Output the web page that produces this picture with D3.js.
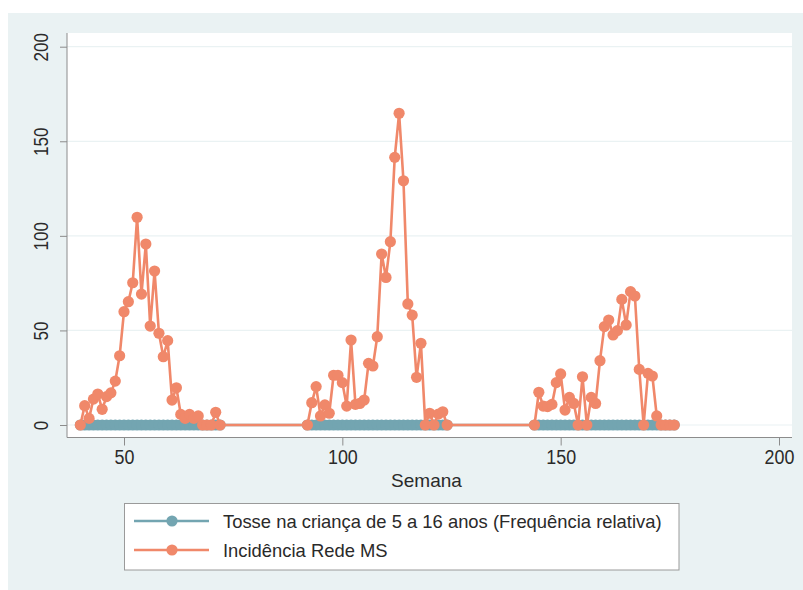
<!DOCTYPE html>
<html>
<head>
<meta charset="utf-8">
<script src="https://cdn.jsdelivr.net/npm/d3@7/dist/d3.min.js"></script>
<style>
  html, body { margin: 0; padding: 0; background: #ffffff; }
  svg { display: block; }
  text { font-family: "Liberation Sans", Arial, sans-serif; fill: #2a2a2a; }
</style>
</head>
<body>
<svg id="chart" width="803" height="590"></svg>
<script>
// Weekly series, three seasons of observation
const weeksA = d3.range(40, 73);
const weeksB = d3.range(92, 125);
const weeksC = d3.range(144, 177);
const weeks = [...weeksA, ...weeksB, ...weeksC];

// Incidência Rede MS
const incidencia = [
  0, 10.2, 3.5, 13.7, 16.4, 8.3, 15, 17, 23.2, 36.6, 59.9, 65.2, 75.2, 109.8, 69.2, 95.7, 52.3,
  81.4, 48.5, 36.1, 44.6, 13.2, 19.7, 5.6, 3.5, 5.6, 3.5, 4.8, 0, 0, 0, 6.7, 0,
  0, 11.8, 20.3, 4.8, 10.6, 6.2, 26.3, 26.3, 22.4, 10.0, 44.9, 10.9, 11.4, 13.2, 32.6, 31.2, 46.7,
  90.4, 78.0, 96.9, 141.5, 164.8, 129.1, 64.0, 58.1, 25.2, 43.2, 0, 6.2, 0, 5.8, 7.0, 0,
  0, 17.3, 10.0, 9.7, 10.9, 22.4, 27.0, 7.9, 14.6, 11.4, 0, 25.5, 0, 14.6, 11.4, 34.0, 52.0,
  55.5, 47.6, 49.9, 66.4, 52.9, 70.5, 68.2, 29.4, 0, 27.3, 25.9, 4.8, 0, 0, 0, 0
];

// Tosse na criança de 5 a 16 anos (relative frequency, stays near zero)
const tosse = [
  0, 0, 0, 0, 0, 0, 0, 0, 0, 0, 0, 0, 0, 0, 0, 0, 0, 0, 0, 0, 0, 0, 0, 0, 0, 0, 0, 0, 0, 0, 0, 0, 0,
  0, 0, 0, 0, 0, 0, 0, 0, 0, 0, 0, 0, 0, 0, 0, 0, 0, 0, 0, 0, 0, 0, 0, 0, 0, 0, 0, 0, 0, 0, 0, 0, 0,
  0, 0, 0, 0, 0, 0, 0, 0, 0, 0, 0, 0, 0, 0, 0, 0, 0, 0, 0, 0, 0, 0, 0, 0, 0, 0, 0, 0, 0, 0, 0, 0, 0
];

const xTicks = [50, 100, 150, 200];
const yTicks = [0, 50, 100, 150, 200];
const seriesNames = ["Tosse na criança de 5 a 16 anos (Frequência relativa)", "Incidência Rede MS"];
const seriesColors = ["#73a5b1", "#f0886a"];
const xTitle = "Semana";

const svg = d3.select("#chart");

// graph region background
svg.append("rect").attr("x", 8).attr("y", 13).attr("width", 795).attr("height", 577).attr("fill", "#eaf2f3");

// plot region
const plot = { left: 67, right: 792, top: 33, bottom: 437.5 };
svg.append("rect")
  .attr("x", plot.left).attr("y", plot.top)
  .attr("width", plot.right - plot.left).attr("height", plot.bottom - plot.top)
  .attr("fill", "#ffffff");

const x = d3.scaleLinear().domain([50, 200]).range([124, 779]);
const y = d3.scaleLinear().domain([0, 200]).range([425, 46.7]);

// horizontal grid
svg.append("g").selectAll("line").data(yTicks).join("line")
  .attr("x1", plot.left).attr("x2", plot.right)
  .attr("y1", d => y(d)).attr("y2", d => y(d))
  .attr("stroke", "#eaf2f3").attr("stroke-width", 1.2);

// y axis
const yAxis = svg.append("g")
  .attr("transform", `translate(${plot.left},0)`)
  .call(d3.axisLeft(y).tickValues(yTicks).tickSize(7).tickPadding(12).tickFormat(d3.format("d")));
yAxis.select(".domain").attr("d", `M0,${plot.top}V${plot.bottom}`).attr("stroke", "#8c8c8c");
yAxis.selectAll(".tick line").attr("stroke", "#8c8c8c");
yAxis.selectAll(".tick text")
  .attr("font-size", 18).attr("fill", "#2a2a2a")
  .attr("text-anchor", "middle")
  .attr("x", 0).attr("dy", 0)
  .attr("transform", "translate(-26,0) rotate(-90) scale(0.95,1.08)")
  .attr("dominant-baseline", "central");

// x axis
const xAxis = svg.append("g")
  .attr("transform", `translate(0,${plot.bottom})`)
  .call(d3.axisBottom(x).tickValues(xTicks).tickSize(8).tickPadding(4).tickFormat(d3.format("d")));
xAxis.select(".domain").attr("d", `M${plot.left},0H${plot.right}`).attr("stroke", "#8c8c8c");
xAxis.selectAll(".tick line").attr("stroke", "#8c8c8c");
xAxis.selectAll(".tick text").attr("font-size", 19).attr("fill", "#2a2a2a")
  .attr("transform", "translate(0,-1) scale(0.94,1.06)");

svg.append("text")
  .attr("x", (plot.left + plot.right) / 2 - 3).attr("y", 487)
  .attr("text-anchor", "middle").attr("font-size", 19)
  .text(xTitle);

// series
const rows = weeks.map((w, i) => ({ w, tosse: tosse[i], inc: incidencia[i] }));
const line = key => d3.line().x(d => x(d.w)).y(d => y(d[key]));

[["tosse", 0], ["inc", 1]].forEach(([key, k]) => {
  const g = svg.append("g");
  g.append("path").datum(rows)
    .attr("d", line(key))
    .attr("fill", "none").attr("stroke", seriesColors[k]).attr("stroke-width", 2.6)
    .attr("stroke-linejoin", "round");
  g.selectAll("circle").data(rows).join("circle")
    .attr("cx", d => x(d.w)).attr("cy", d => y(d[key]))
    .attr("r", 5.6).attr("fill", seriesColors[k]);
});

// legend
const leg = svg.append("g");
leg.append("rect").attr("x", 124.5).attr("y", 503.5).attr("width", 554.5).attr("height", 66.5)
  .attr("fill", "#ffffff").attr("stroke", "#9a9a9a").attr("stroke-width", 1);
seriesNames.forEach((name, i) => {
  const cy = 521 + i * 29;
  leg.append("line").attr("x1", 134).attr("x2", 209).attr("y1", cy).attr("y2", cy)
    .attr("stroke", seriesColors[i]).attr("stroke-width", 2.6);
  leg.append("circle").attr("cx", 172).attr("cy", cy).attr("r", 5.6).attr("fill", seriesColors[i]);
  leg.append("text").attr("x", 223).attr("y", cy + 6.5).attr("font-size", 18.4).text(name);
});
</script>
</body>
</html>
